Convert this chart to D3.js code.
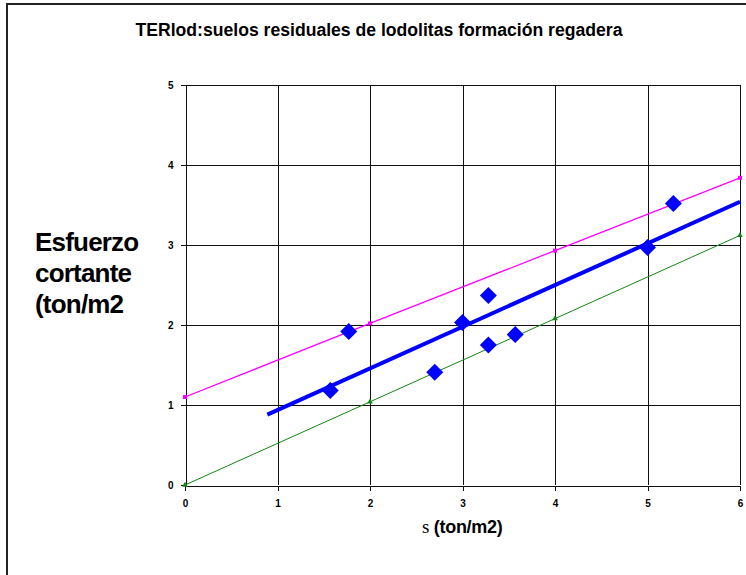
<!DOCTYPE html>
<html>
<head>
<meta charset="utf-8">
<script src="https://cdn.jsdelivr.net/npm/d3@7"></script>
<style>
  html, body { margin: 0; padding: 0; background: #fff; }
  svg { display: block; }
  text { font-family: Arial, "Liberation Sans", sans-serif; font-weight: bold; fill: #000; }
</style>
</head>
<body>
<svg id="chart" width="746" height="575"></svg>
<script>
// Measured shear tests: normal stress vs shear stress (ton/m2)
const sigma = [1.57, 1.77, 2.70, 3.00, 3.28, 3.28, 3.57, 5.00, 5.28];
const tau   = [1.18, 1.92, 1.41, 2.03, 2.37, 1.75, 1.88, 2.97, 3.52];

// Best-fit envelope
const fitX = [0.89, 6];
const fitY = [0.88, 3.54];

// Upper envelope
const upperX = [0, 2, 4, 6];
const upperY = [1.10, 2.02, 2.93, 3.84];

// Lower envelope
const lowerX = [0, 2, 4, 6];
const lowerY = [0.00, 1.04, 2.08, 3.12];

const xTicks = [0, 1, 2, 3, 4, 5, 6];
const yTicks = [0, 1, 2, 3, 4, 5];

const title = "TERlod:suelos residuales de lodolitas formación regadera";
const yTitle = ["Esfuerzo", "cortante", "(ton/m2"];

const svg = d3.select("#chart");

// frame
svg.append("path")
  .attr("d", "M7,576 L7,4 L747,4")
  .attr("fill", "none").attr("stroke", "#222").attr("stroke-width", 2);

const x = d3.scaleLinear().domain([0, 6]).range([185, 740]);
const y = d3.scaleLinear().domain([0, 5]).range([485, 85]);

// grid
const grid = svg.append("g").attr("stroke", "#111").attr("stroke-width", 1).attr("shape-rendering", "crispEdges");
grid.selectAll(".v").data(xTicks.slice(1)).join("line")
  .attr("x1", d => Math.round(x(d)) + 0.5).attr("x2", d => Math.round(x(d)) + 0.5)
  .attr("y1", y(5)).attr("y2", y(0));
grid.selectAll(".h").data(yTicks.slice(1)).join("line")
  .attr("x1", x(0)).attr("x2", x(6))
  .attr("y1", d => Math.round(y(d)) + 0.5).attr("y2", d => Math.round(y(d)) + 0.5);

// axes
const xAxis = svg.append("g")
  .attr("transform", `translate(0,${y(0) + 0.5})`)
  .call(d3.axisBottom(x).tickValues(xTicks).tickSize(5).tickPadding(9).tickFormat(d3.format("d")));
const yAxis = svg.append("g")
  .attr("transform", `translate(${x(0) + 0.5},0)`)
  .call(d3.axisLeft(y).tickValues(yTicks).tickSize(5).tickPadding(7).tickFormat(d3.format("d")));
[xAxis, yAxis].forEach(a => {
  a.select(".domain").attr("stroke", "#111").attr("shape-rendering", "crispEdges");
  a.selectAll(".tick line").attr("stroke", "#111").attr("shape-rendering", "crispEdges");
  a.selectAll(".tick text").attr("font-size", 10).attr("font-weight", "bold")
    .attr("font-family", "Arial, 'Liberation Sans', sans-serif").attr("fill", "#000");
});

const line = d3.line().x(d => x(d[0])).y(d => y(d[1]));

// lower envelope (green)
const lowerPts = lowerX.map((v, i) => [v, lowerY[i]]);
svg.append("path").datum(lowerPts).attr("d", line)
  .attr("fill", "none").attr("stroke", "#118811").attr("stroke-width", 1);
svg.append("g").selectAll("path").data(lowerPts).join("path")
  .attr("transform", d => `translate(${x(d[0])},${y(d[1])})`)
  .attr("d", d3.symbol(d3.symbolTriangle, 14))
  .attr("fill", "#118811");

// upper envelope (magenta)
const upperPts = upperX.map((v, i) => [v, upperY[i]]);
svg.append("path").datum(upperPts).attr("d", line)
  .attr("fill", "none").attr("stroke", "#ff00ff").attr("stroke-width", 1.3);
svg.append("g").selectAll("rect").data(upperPts).join("rect")
  .attr("x", d => x(d[0]) - 2).attr("y", d => y(d[1]) - 2)
  .attr("width", 4).attr("height", 4).attr("fill", "#ff00ff");

// best fit (blue)
const fitPts = fitX.map((v, i) => [v, fitY[i]]);
svg.append("path").datum(fitPts).attr("d", line)
  .attr("fill", "none").attr("stroke", "#0000ff").attr("stroke-width", 4);

// measured points (diamonds)
const r = 8.5;
svg.append("g").selectAll("path").data(sigma.map((v, i) => [v, tau[i]])).join("path")
  .attr("transform", d => `translate(${x(d[0])},${y(d[1])})`)
  .attr("d", `M0,${-r} L${r},0 L0,${r} L${-r},0 Z`)
  .attr("fill", "#0000ff");

// titles
svg.append("text").attr("x", 379).attr("y", 36).attr("text-anchor", "middle")
  .attr("font-size", 17.6).attr("letter-spacing", 0).text(title);

svg.append("g").selectAll("text").data(yTitle).join("text")
  .attr("x", 35).attr("y", (d, i) => 251 + i * 31)
  .attr("font-size", 26).attr("letter-spacing", -0.8).text(d => d);

const xt = svg.append("text").attr("x", 422).attr("y", 533).attr("font-size", 18).attr("letter-spacing", -0.3);
xt.append("tspan").attr("font-family", "'Liberation Serif', 'DejaVu Serif', serif").attr("font-weight", "normal").attr("font-size", 19).text("s");
xt.append("tspan").text(" (ton/m2)");
</script>
</body>
</html>
